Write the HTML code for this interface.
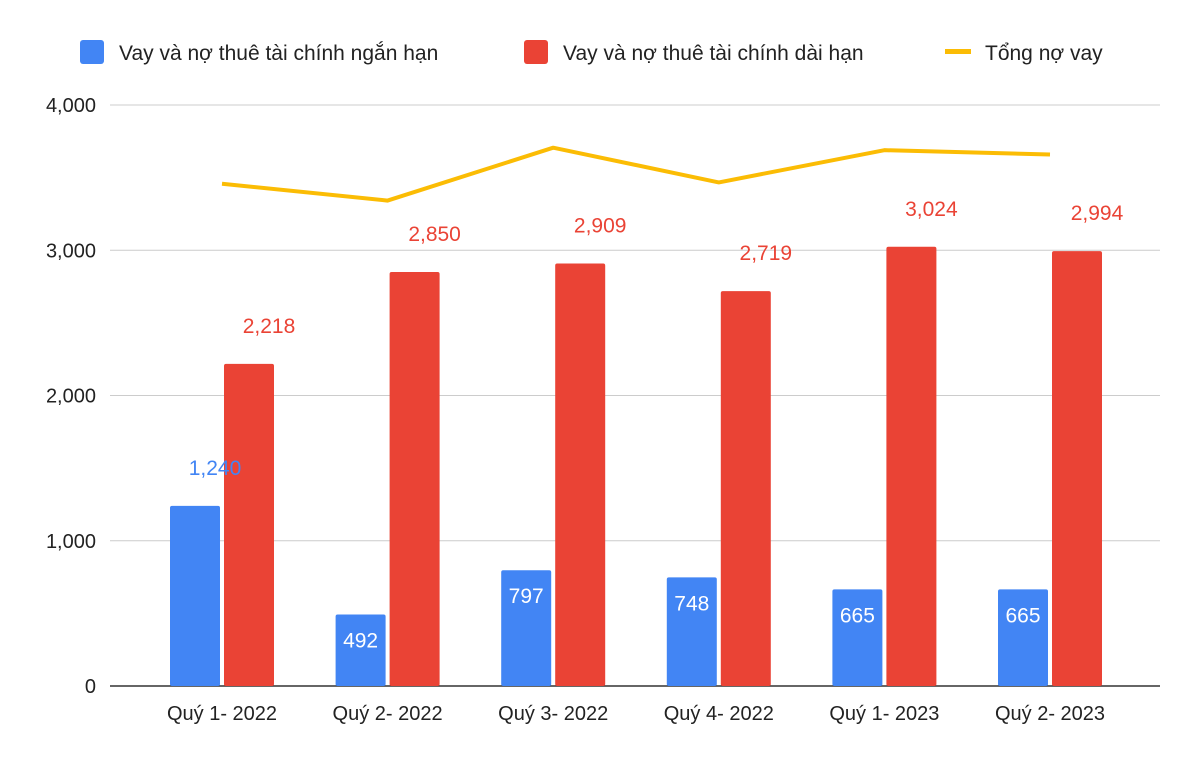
<!DOCTYPE html>
<html><head><meta charset="utf-8"><style>
body{margin:0;background:#fff;}
svg text{font-family:"Liberation Sans",Arial,sans-serif;}
</style></head><body>
<svg width="1200" height="764" xmlns="http://www.w3.org/2000/svg">
<g id="legend">
<rect x="80" y="40" width="24" height="24" rx="3" fill="#4285f4"/>
<text x="119" y="60" font-size="21" fill="#222">Vay và nợ thuê tài chính ngắn hạn</text>
<rect x="524" y="40" width="24" height="24" rx="3" fill="#ea4335"/>
<text x="563" y="60" font-size="21" fill="#222">Vay và nợ thuê tài chính dài hạn</text>
<rect x="945" y="49" width="26" height="5" fill="#fbbc04"/>
<text x="985" y="60" font-size="21" fill="#222">Tổng nợ vay</text>
</g>
<g id="grid"></g><g id="bars"></g><g id="line"></g><g id="labels"></g>
</svg>
<script>
const categories=["Quý 1- 2022","Quý 2- 2022","Quý 3- 2022","Quý 4- 2022","Quý 1- 2023","Quý 2- 2023"];
const shortTerm=[1240,492,797,748,665,665];
const longTerm=[2218,2850,2909,2719,3024,2994];
const total=[3458,3342,3706,3467,3689,3659];
const yTicks=[0,1000,2000,3000,4000];
const yTickLabels=["0","1,000","2,000","3,000","4,000"];
const NS="http://www.w3.org/2000/svg";
const y0=686,yTop=105,yMax=4000;
function y(v){return y0-(v/yMax)*(y0-yTop);}
function xc(i){return 222+i*165.6;}
function mk(tag,attrs,parent,txt){const e=document.createElementNS(NS,tag);for(const k in attrs)e.setAttribute(k,attrs[k]);if(txt!==undefined)e.textContent=txt;document.getElementById(parent).appendChild(e);return e;}
yTicks.forEach((t,i)=>{
 const g=mk('line',{x1:110,x2:1160,y1:y(t),y2:y(t),stroke:t===0?'#333':'#ccc','stroke-width':t===0?1.5:1},'grid');
 
 
 const l=mk('text',{x:96,y:y(t)+7,'text-anchor':'end','font-size':20,fill:'#222'},'grid',yTickLabels[i]);
 
 
});
categories.forEach((c,i)=>{
 const cx=xc(i);
 const l=mk('text',{x:cx,y:720,'text-anchor':'middle','font-size':20,fill:'#222'},'labels',c);
 
 
 const b1=mk('rect',{x:cx-52,y:y(shortTerm[i]),width:50,height:y0-y(shortTerm[i]),rx:2,fill:'#4285f4'},'bars');
 
 
 const b2=mk('rect',{x:cx+2,y:y(longTerm[i]),width:50,height:y0-y(longTerm[i]),rx:2,fill:'#ea4335'},'bars');
 
 
 const out=shortTerm[i]>=1000;
 const v1=mk('text',{x:cx-27+(out?20:0),y:out?y(shortTerm[i])-31:y(shortTerm[i])+33,'text-anchor':'middle','font-size':21,fill:out?'#4285f4':'#fff'},'labels',shortTerm[i].toLocaleString('en-US'));
 
 
 const v2=mk('text',{x:cx+27+20,y:y(longTerm[i])-31,'text-anchor':'middle','font-size':21,fill:'#ea4335'},'labels',longTerm[i].toLocaleString('en-US'));
 
 
});
const pts=total.map((v,i)=>xc(i)+','+y(v)).join(' ');
const pl=mk('polyline',{points:pts,fill:'none',stroke:'#fbbc04','stroke-width':4,'stroke-linejoin':'round'},'line');


</script>
</body></html>
